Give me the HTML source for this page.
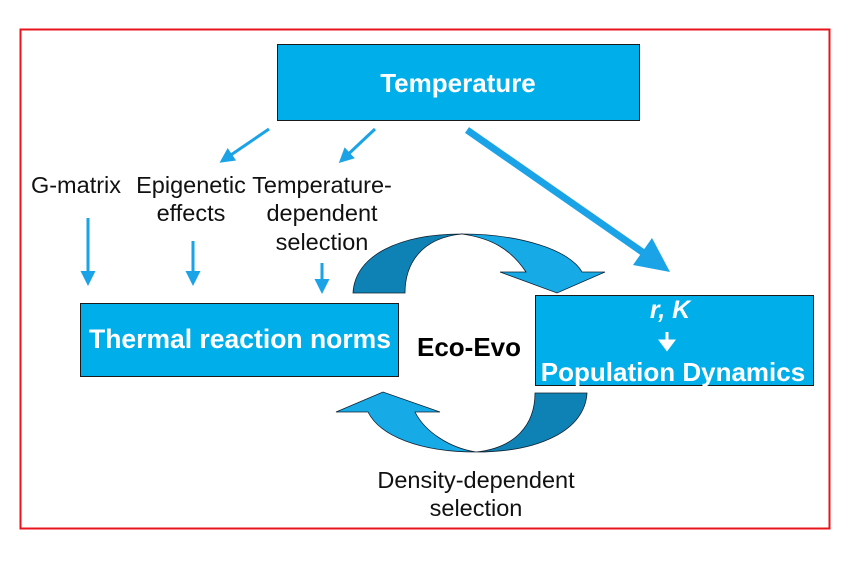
<!DOCTYPE html>
<html><head><style>
body{margin:0;background:#fff;}
svg{display:block}
text{font-family:"Liberation Sans",Arial,sans-serif;}
</style></head><body>
<svg width="851" height="570" viewBox="0 0 851 570">
<defs>
<marker id="ah" viewBox="0 0 10 10" refX="8" refY="5" markerWidth="5" markerHeight="5" orient="auto"><path d="M0,0 L10,5 L0,10 z" fill="#1aa3e6"/></marker>
</defs>
<rect x="20.5" y="29.5" width="809" height="499" fill="none" stroke="#e8141b" stroke-width="2"/>
<rect x="277.5" y="44.5" width="362" height="76" fill="#00aeea" stroke="#1a1a1a" stroke-width="1"/>
<text x="458" y="92" text-anchor="middle" font-size="26" font-weight="bold" fill="#fff">Temperature</text>
<rect x="80.5" y="303.5" width="318" height="73" fill="#00aeea" stroke="#1a1a1a" stroke-width="1"/>
<text x="240" y="348" text-anchor="middle" font-size="26.5" font-weight="bold" fill="#fff">Thermal reaction norms</text>
<rect x="535.5" y="295.5" width="278" height="90" fill="#00aeea" stroke="#1a1a1a" stroke-width="1"/>
<text x="670" y="318" text-anchor="middle" font-size="25" font-weight="bold" font-style="italic" fill="#fff">r, K</text>
<path d="M667,332 v10 M661,341 l6,8 l6,-8 z" stroke="#fff" stroke-width="3" fill="#fff"/>
<text x="673" y="381" text-anchor="middle" font-size="26" font-weight="bold" fill="#fff">Population Dynamics</text>
<text x="469" y="356" text-anchor="middle" font-size="26" font-weight="bold" fill="#000">Eco-Evo</text>
<g font-size="23.5" fill="#111" text-anchor="middle">
<text x="76" y="193">G-matrix</text>
<text x="191" y="193">Epigenetic</text>
<text x="191" y="221">effects</text>
<text x="322" y="193">Temperature-</text>
<text x="322" y="221">dependent</text>
<text x="322" y="250">selection</text>
<text x="476" y="488">Density-dependent</text>
<text x="476" y="516">selection</text>
</g>
<g stroke="#1aa3e6" stroke-width="3" marker-end="url(#ah)">
<line x1="269" y1="129" x2="222" y2="161"/>
<line x1="375" y1="129" x2="341" y2="161"/>
<line x1="88" y1="218" x2="88" y2="283"/>
<line x1="193" y1="241" x2="193" y2="283"/>
<line x1="322" y1="263" x2="322" y2="291"/>
</g>
<line x1="467" y1="130" x2="648" y2="256" stroke="#1aa3e6" stroke-width="7"/>
<path d="M670,272 L652,238 L633,265 z" fill="#1aa3e6"/>
<path d="M353,293 C355,255 400,234 462,234 C420,238 405,265 405,293 z" fill="#0f82b5" stroke="#123" stroke-width="0.8"/>
<path d="M462,234 C520,234 570,250 582,272 L605,272 L557,293 L500,272 L526,272 C510,248 490,238 462,234 z" fill="#16aae6" stroke="#123" stroke-width="0.8"/>
<path d="M587,393 C585,430 540,452 476,452 C515,448 535,425 535,393 z" fill="#0f82b5" stroke="#123" stroke-width="0.8"/>
<path d="M476,452 C420,452 380,436 368,412 L336,412 L383,392 L440,412 L415,412 C425,432 450,448 476,452 z" fill="#16aae6" stroke="#123" stroke-width="0.8"/>
</svg>
</body></html>
